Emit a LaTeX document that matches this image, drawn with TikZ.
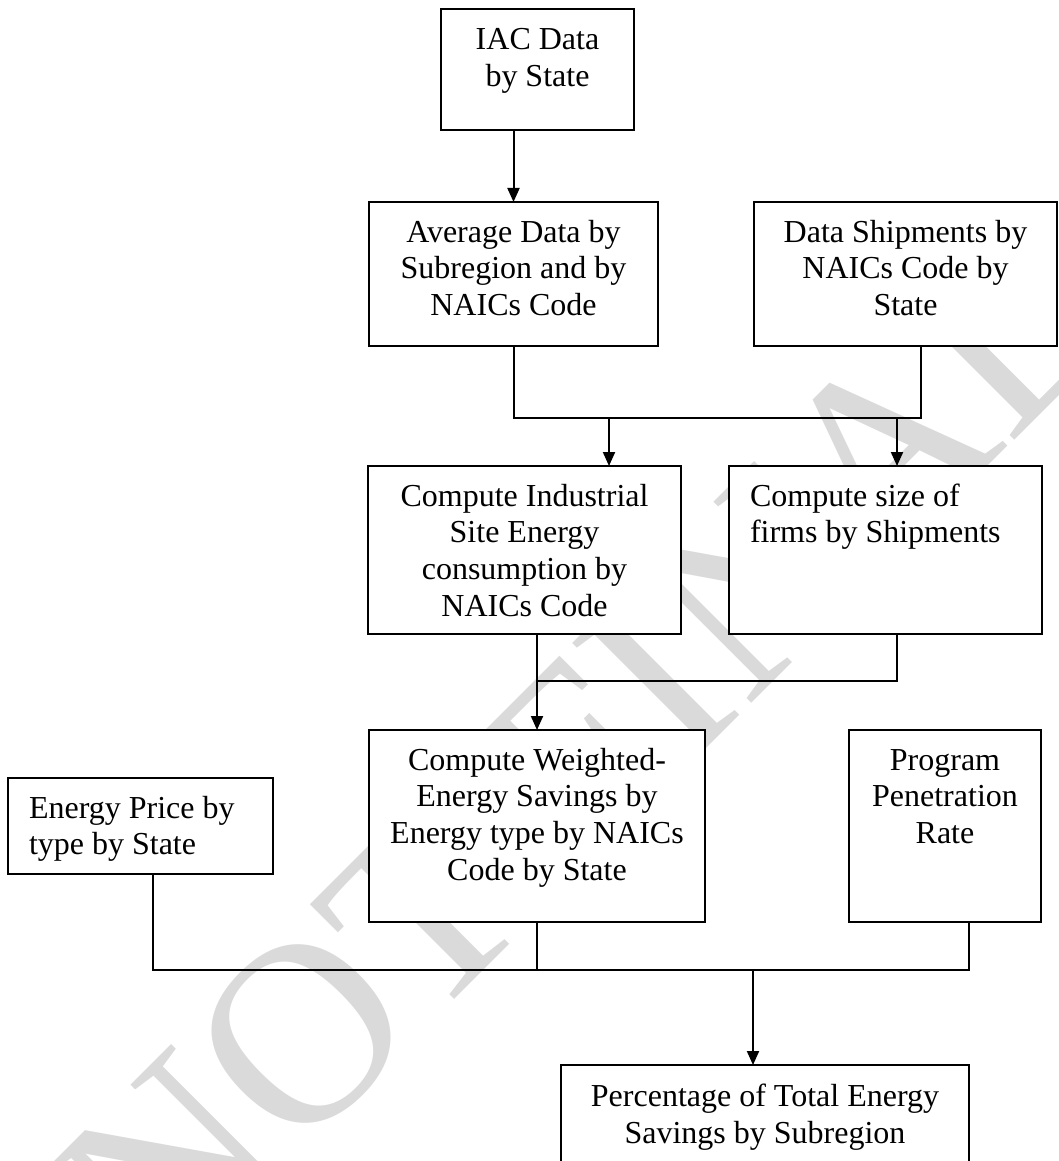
\documentclass[tikz,border=0pt]{standalone}
\usepackage{fontspec}
\setmainfont{Liberation Serif}
\usetikzlibrary{arrows.meta}
\definecolor{wmgray}{RGB}{218,218,218}
\newcommand{\ctext}[3]{\parbox[t][#2pt][t]{#1pt}{\fontsize{32}{36.7}\selectfont\centering\rule{0pt}{40pt}#3}}
\newcommand{\ltext}[3]{\parbox[t][#2pt][t]{#1pt}{\fontsize{32}{36.7}\selectfont\raggedright\leftskip=21pt\rule{0pt}{40pt}#3}}
\newcommand{\ptext}[3]{\parbox[t][#2pt][t]{#1pt}{\fontsize{32}{36.7}\selectfont\centering\rule{0pt}{41.5pt}#3}}
\tikzset{
  flowbox/.style={draw, line width=2pt, fill=white, inner sep=0pt, outer sep=0pt, anchor=north west},
  conn/.style={line width=2pt},
  arr/.style={conn, -{Triangle[length=14pt,width=12pt]}},
  wmark/.style={anchor=base west, rotate=45, text=wmgray, inner sep=0pt, font=\fontsize{258}{258}\selectfont}
}
\begin{document}
\begin{tikzpicture}[x=1pt,y=-1pt]
\useasboundingbox[fill=white] (0,0) rectangle (1058,1161);
\clip (0,0) rectangle (1058,1161);
% watermark
\node[wmark] (wm) at (163.4,1291.4) {NOT FINAL};
% boxes
\node[flowbox] (iac) at (441,9.5) {\ctext{193}{120.5}{IAC Data\\by State}};
\node[flowbox] (avg) at (369,202) {\ctext{289}{144}{Average Data by\\Subregion and by\\NAICs Code}};
\node[flowbox] (ship) at (754,202) {\ctext{303}{144}{Data Shipments by\\NAICs Code by\\State}};
\node[flowbox] (ind) at (368,466) {\ctext{313}{168}{Compute Industrial\\Site Energy\\consumption by\\NAICs Code}};
\node[flowbox] (size) at (729,466) {\ltext{313}{168}{Compute size of\\firms by Shipments}};
\node[flowbox] (wtd) at (369,730) {\ctext{336}{192}{Compute Weighted-\\Energy Savings by\\Energy type by NAICs\\Code by State}};
\node[flowbox] (price) at (8,778) {\ltext{265}{96}{Energy Price by\\type by State}};
\node[flowbox] (prog) at (849,730) {\ctext{192}{192}{Program\\Penetration\\Rate}};
\node[flowbox] (pct) at (561,1065) {\ptext{408}{150}{Percentage of Total Energy\\Savings by Subregion}};
% junction coordinates
\coordinate (jA) at (513.5,418);
\coordinate (jB) at (921,418);
\coordinate (tA) at (609,418);
\coordinate (tB) at (897,418);
\coordinate (jC) at (897,681);
\coordinate (jD) at (153,970);
\coordinate (jE) at (969,970);
\coordinate (tC) at (753,970);
% connectors
\draw[arr] (avg.north |- iac.south) -- (avg.north);
\draw[conn] (avg.south) -- (jA) -- (jB) -- (jB |- ship.south);
\draw[arr] (tA) -- (tA |- ind.north);
\draw[arr] (tB) -- (tB |- size.north);
\draw[arr] (wtd.north |- ind.south) -- (wtd.north);
\draw[conn] (jC |- size.south) -- (jC) -- (wtd.north |- jC);
\draw[conn] (jD |- price.south) -- (jD) -- (jE) -- (jE |- prog.south);
\draw[conn] (wtd.south) -- (wtd.south |- jD);
\draw[arr] (tC) -- (tC |- pct.north);
\end{tikzpicture}
\end{document}
